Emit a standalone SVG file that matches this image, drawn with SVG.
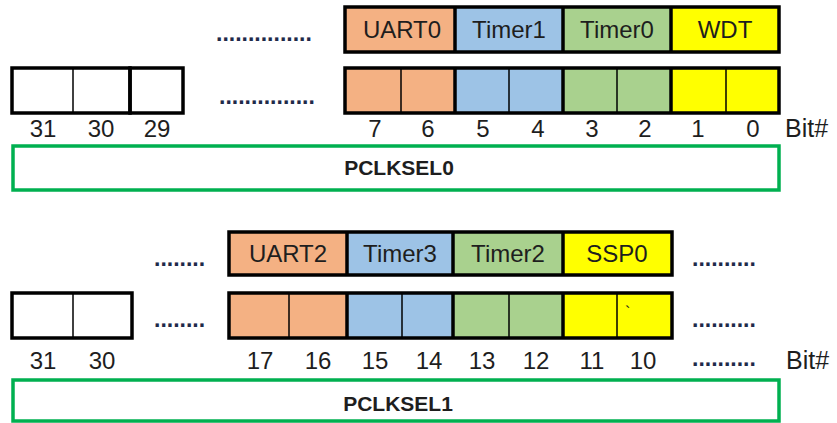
<svg xmlns="http://www.w3.org/2000/svg" width="837" height="423" viewBox="0 0 837 423">
<style>
text{font-family:"Liberation Sans",Arial,sans-serif;fill:#1e1e1e}
.lbl{font-size:24px;text-anchor:middle}
.num{font-size:24px;text-anchor:middle}
.dots{font-size:23px;font-weight:bold;fill:#1f2a4a}
.reg{font-size:21px;font-weight:bold;text-anchor:middle}
.box{stroke:#000;stroke-width:3.5}
.div{stroke:#000;stroke-width:1.5}
.or{fill:#F4B183}.bl{fill:#9DC3E6}.gr{fill:#A9D18E}.ye{fill:#FFFF00}.wh{fill:#fff}
.green{fill:none;stroke:#00B050;stroke-width:3.5}
</style>
<rect width="837" height="423" fill="#fff"/>
<g id="connectors"/>

<!-- PCLKSEL0 -->
<g id="top-fields">
  <rect class="or" x="345" y="7" width="110" height="45"/>
  <rect class="bl" x="455" y="7" width="108" height="45"/>
  <rect class="gr" x="563" y="7" width="108" height="45"/>
  <rect class="ye" x="671" y="7" width="108" height="45"/>
  <g fill="none" class="box">
    <rect x="345" y="7" width="434" height="45"/>
    <line x1="455" y1="7" x2="455" y2="52"/><line x1="563" y1="7" x2="563" y2="52"/><line x1="671" y1="7" x2="671" y2="52"/>
  </g>
  <text class="lbl" x="402" y="38">UART0</text>
  <text class="lbl" x="509" y="38">Timer1</text>
  <text class="lbl" x="617" y="38">Timer0</text>
  <text class="lbl" x="725" y="38">WDT</text>
</g>
<text class="dots" x="216" y="41">...............</text>
<text class="dots" x="219" y="104">...............</text>

<g id="top-left-bits">
  <rect class="wh" x="12" y="68" width="171" height="45"/>
  <g fill="none">
    <rect class="box" x="12" y="68" width="118" height="45"/>
    <rect class="box" x="130" y="68" width="53" height="45"/>
    <line class="div" x1="73" y1="68" x2="73" y2="113"/>
  </g>
</g>
<g id="top-bits">
  <rect class="or" x="345" y="68" width="110" height="45"/>
  <rect class="bl" x="455" y="68" width="108" height="45"/>
  <rect class="gr" x="563" y="68" width="108" height="45"/>
  <rect class="ye" x="671" y="68" width="108" height="45"/>
  <g fill="none">
    <line class="div" x1="401" y1="68" x2="401" y2="113"/><line class="div" x1="509" y1="68" x2="509" y2="113"/><line class="div" x1="617" y1="68" x2="617" y2="113"/><line class="div" x1="726" y1="68" x2="726" y2="113"/>
    <rect class="box" x="345" y="68" width="434" height="45"/>
    <line class="box" x1="455" y1="68" x2="455" y2="113"/><line class="box" x1="563" y1="68" x2="563" y2="113"/><line class="box" x1="671" y1="68" x2="671" y2="113"/>
  </g>
</g>
<g id="top-bitnums">
  <text class="num" x="43" y="137">31</text>
  <text class="num" x="101" y="137">30</text>
  <text class="num" x="157" y="137">29</text>
  <text class="num" x="375" y="137">7</text>
  <text class="num" x="428" y="137">6</text>
  <text class="num" x="483" y="137">5</text>
  <text class="num" x="538" y="137">4</text>
  <text class="num" x="592" y="137">3</text>
  <text class="num" x="645" y="137">2</text>
  <text class="num" x="698" y="137">1</text>
  <text class="num" x="753" y="137">0</text>
  <text x="785" y="137" style="font-size:25px">Bit#</text>
</g>
<g id="pclksel0">
  <rect class="green" x="13" y="146" width="766" height="44"/>
  <text class="reg" x="399" y="175">PCLKSEL0</text>
</g>

<!-- PCLKSEL1 -->
<g id="bottom-fields">
  <rect class="or" x="229" y="232" width="118" height="43"/>
  <rect class="bl" x="347" y="232" width="106" height="43"/>
  <rect class="gr" x="453" y="232" width="110" height="43"/>
  <rect class="ye" x="563" y="232" width="109" height="43"/>
  <g fill="none" class="box">
    <rect x="229" y="232" width="443" height="43"/>
    <line x1="347" y1="232" x2="347" y2="275"/><line x1="453" y1="232" x2="453" y2="275"/><line x1="563" y1="232" x2="563" y2="275"/>
  </g>
  <text class="lbl" x="288" y="262">UART2</text>
  <text class="lbl" x="400" y="262">Timer3</text>
  <text class="lbl" x="508" y="262">Timer2</text>
  <text class="lbl" x="617" y="262">SSP0</text>
</g>
<text class="dots" x="154" y="266">........</text>
<text class="dots" x="154" y="327">........</text>
<text class="dots" x="692" y="266">..........</text>
<text class="dots" x="692" y="327">..........</text>
<text class="dots" x="692" y="366">..........</text>

<g id="bottom-left-bits">
  <rect class="wh" x="12" y="293" width="120" height="45"/>
  <rect class="box" fill="none" x="12" y="293" width="120" height="45"/>
  <line class="div" x1="73" y1="293" x2="73" y2="338"/>
</g>
<g id="bottom-bits">
  <rect class="or" x="229" y="293" width="118" height="45"/>
  <rect class="bl" x="347" y="293" width="106" height="45"/>
  <rect class="gr" x="453" y="293" width="110" height="45"/>
  <rect class="ye" x="563" y="293" width="109" height="45"/>
  <g fill="none">
    <line class="div" x1="289" y1="293" x2="289" y2="338"/><line class="div" x1="402" y1="293" x2="402" y2="338"/><line class="div" x1="509" y1="293" x2="509" y2="338"/><line class="div" x1="617" y1="293" x2="617" y2="338"/>
    <rect class="box" x="229" y="293" width="443" height="45"/>
    <line class="box" x1="347" y1="293" x2="347" y2="338"/><line class="box" x1="453" y1="293" x2="453" y2="338"/><line class="box" x1="563" y1="293" x2="563" y2="338"/>
  </g>
  <text x="625" y="318" style="font-size:16px">`</text>
</g>
<g id="bottom-bitnums">
  <text class="num" x="43" y="369">31</text>
  <text class="num" x="102" y="369">30</text>
  <text class="num" x="260" y="369">17</text>
  <text class="num" x="318" y="369">16</text>
  <text class="num" x="375" y="369">15</text>
  <text class="num" x="429" y="369">14</text>
  <text class="num" x="482" y="369">13</text>
  <text class="num" x="536" y="369">12</text>
  <text class="num" x="592" y="369">11</text>
  <text class="num" x="643" y="369">10</text>
  <text x="786" y="369" style="font-size:25px">Bit#</text>
</g>
<g id="pclksel1">
  <rect class="green" x="13" y="380" width="766" height="41"/>
  <text class="reg" x="398" y="411">PCLKSEL1</text>
</g>
</svg>
